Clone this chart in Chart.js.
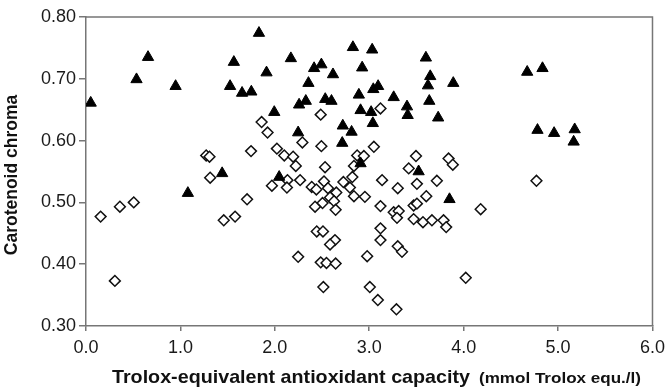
<!DOCTYPE html>
<html lang="en">
<head>
  <meta charset="UTF-8" />
  <title>Carotenoid chroma vs TEAC</title>
  <script src="https://cdn.jsdelivr.net/npm/chart.js"></script>
  <style>
    body {
      margin: 0;
      padding: 0;
      background: white;
    }
    #wrap {
      width: 671px;
      height: 388px;
    }
  </style>
</head>
<body>
  <div id="wrap">
    <canvas id="scatter" width="671" height="388"></canvas>
  </div>

  <script>
    // filled triangles
    const triX = [0.05, 0.535, 0.657, 0.949, 1.526, 1.566, 1.653, 1.751, 1.832, 2.17, 1.912, 2.416, 2.493, 2.616,
      2.356, 2.257, 2.328, 2.534, 2.60, 1.994, 2.247, 2.72, 2.714, 2.827, 3.031, 2.925, 3.043, 3.094, 2.89, 3.259,
      2.908, 3.02, 3.40, 3.407, 3.038, 2.813, 3.60, 3.646, 3.622, 3.89, 3.636, 3.73, 4.673, 4.835, 4.782, 4.958,
      5.176, 5.165, 1.079, 1.442, 2.046, 2.908, 3.523, 3.85];
    const triY = [0.661, 0.699, 0.735, 0.688, 0.688, 0.727, 0.677, 0.679, 0.774, 0.733, 0.710, 0.717, 0.723, 0.707,
      0.693, 0.658, 0.664, 0.667, 0.664, 0.646, 0.613, 0.624, 0.596, 0.751, 0.747, 0.718, 0.683, 0.688, 0.674, 0.670,
      0.649, 0.646, 0.655, 0.641, 0.628, 0.614, 0.734, 0.704, 0.689, 0.693, 0.664, 0.637, 0.711, 0.717, 0.617, 0.612,
      0.618, 0.598, 0.515, 0.547, 0.541, 0.563, 0.550, 0.505];

    // open diamonds
    const diaX = [1.273, 1.308, 1.748, 1.86, 0.155, 0.306, 0.359, 0.506, 1.315, 1.459, 1.579, 1.706,
      1.923, 2.022, 2.10, 2.194, 2.486, 2.292, 2.493, 3.119, 3.049, 3.495, 3.84, 3.885, 2.222, 2.532, 2.872, 2.943,
      2.838, 3.418, 2.134, 1.969, 2.128, 2.268, 2.391, 2.44, 2.521, 2.563, 2.651, 2.726, 2.585, 2.627, 2.505, 2.426,
      2.644, 2.444, 2.51, 2.637, 2.585, 2.247, 2.486, 2.547, 2.644, 2.514, 2.978, 3.006, 3.091, 3.288, 3.119, 3.119,
      3.302, 3.347, 3.136, 3.302, 3.119, 3.259, 3.312, 3.294, 3.505, 3.604, 3.47, 3.505, 3.716, 3.47, 3.569, 3.664,
      3.787, 3.815, 4.022, 2.821, 2.795, 2.838, 2.954, 4.771, 4.18];
    const diaY = [0.576, 0.574, 0.583, 0.630, 0.477, 0.373, 0.493, 0.500, 0.540, 0.471, 0.477, 0.505,
      0.613, 0.587, 0.576, 0.574, 0.642, 0.597, 0.591, 0.652, 0.590, 0.575, 0.571, 0.561, 0.559, 0.557, 0.576, 0.575,
      0.559, 0.555, 0.536, 0.527, 0.524, 0.536, 0.525, 0.521, 0.534, 0.523, 0.516, 0.533, 0.508, 0.502, 0.499, 0.493,
      0.488, 0.453, 0.453, 0.439, 0.432, 0.412, 0.403, 0.402, 0.401, 0.363, 0.413, 0.363, 0.342, 0.327, 0.458, 0.439,
      0.429, 0.420, 0.536, 0.523, 0.494, 0.484, 0.486, 0.475, 0.530, 0.510, 0.495, 0.498, 0.535, 0.473, 0.468, 0.471,
      0.471, 0.460, 0.378, 0.541, 0.524, 0.510, 0.509, 0.535, 0.489];

    const xTicks = [0, 1, 2, 3, 4, 5, 6];
    const yTicks = [0.3, 0.4, 0.5, 0.6, 0.7, 0.8];

    const axisGray = '#767676';
    const tickFont = { family: 'Liberation Sans, Arial, sans-serif', size: 18 };

    // frame (top/right) and axis titles
    const extras = {
      id: 'extras',
      afterDraw(chart) {
        const c = chart.ctx;
        const a = chart.chartArea;
        c.save();
        c.strokeStyle = axisGray;
        c.lineWidth = 1.5;
        c.beginPath();
        c.moveTo(a.left, a.top);
        c.lineTo(a.right, a.top);
        c.lineTo(a.right, a.bottom);
        c.stroke();

        c.fillStyle = '#111';
        c.textBaseline = 'alphabetic';
        c.textAlign = 'left';

        // x title, main part + smaller unit part
        c.font = 'bold 19px "Liberation Sans", Arial, sans-serif';
        const main = 'Trolox-equivalent antioxidant capacity';
        let w = c.measureText(main).width;
        c.save();
        c.translate(112, 383);
        c.scale(358 / w, 1);
        c.fillText(main, 0, 0);
        c.restore();

        c.font = 'bold 15px "Liberation Sans", Arial, sans-serif';
        const unit = '(mmol Trolox equ./l)';
        w = c.measureText(unit).width;
        c.save();
        c.translate(479, 383);
        c.scale(162 / w, 1);
        c.fillText(unit, 0, 0);
        c.restore();

        // y title
        c.font = 'bold 17.5px "Liberation Sans", Arial, sans-serif';
        c.textAlign = 'center';
        c.textBaseline = 'middle';
        c.translate(12, 175);
        c.rotate(-Math.PI / 2);
        c.fillText('Carotenoid chroma', 0, 0);
        c.restore();
      }
    };

    const ctx = document.getElementById('scatter').getContext('2d');

    new Chart(ctx, {
      type: 'scatter',
      data: {
        datasets: [
          {
            label: 'triangles',
            data: triX.map((x, i) => ({ x, y: triY[i] })),
            pointStyle: 'triangle',
            pointRadius: 6.5,
            backgroundColor: '#000',
            borderColor: '#000',
            borderWidth: 1
          },
          {
            label: 'diamonds',
            data: diaX.map((x, i) => ({ x, y: diaY[i] })),
            pointStyle: 'rectRot',
            pointRadius: 5.4,
            backgroundColor: '#fff',
            borderColor: '#111',
            borderWidth: 1.5
          }
        ]
      },
      options: {
        responsive: false,
        animation: false,
        devicePixelRatio: 1,
        layout: { padding: { top: 17, right: 16, left: 0, bottom: 0 } },
        plugins: {
          legend: { display: false },
          tooltip: { enabled: false }
        },
        scales: {
          x: {
            type: 'linear',
            min: 0,
            max: 6,
            afterBuildTicks: s => { s.ticks = xTicks.map(v => ({ value: v })); },
            afterFit: s => { s.height = 62; },
            border: { color: axisGray, width: 1.5 },
            grid: { drawOnChartArea: false, drawTicks: true, tickLength: 5, color: axisGray, lineWidth: 1.5 },
            ticks: {
              padding: 6,
              color: '#1a1a1a',
              font: tickFont,
              maxRotation: 0,
              callback: v => Number(v).toFixed(1)
            }
          },
          y: {
            type: 'linear',
            min: 0.3,
            max: 0.8,
            afterBuildTicks: s => { s.ticks = yTicks.map(v => ({ value: v })); },
            afterFit: s => { s.width = 86; },
            border: { color: axisGray, width: 1.5 },
            grid: { drawOnChartArea: false, drawTicks: true, tickLength: 7, color: axisGray, lineWidth: 1.5 },
            ticks: {
              padding: 3,
              color: '#1a1a1a',
              font: tickFont,
              callback: v => Number(v).toFixed(2)
            }
          }
        }
      },
      plugins: [extras]
    });
  </script>
</body>
</html>
